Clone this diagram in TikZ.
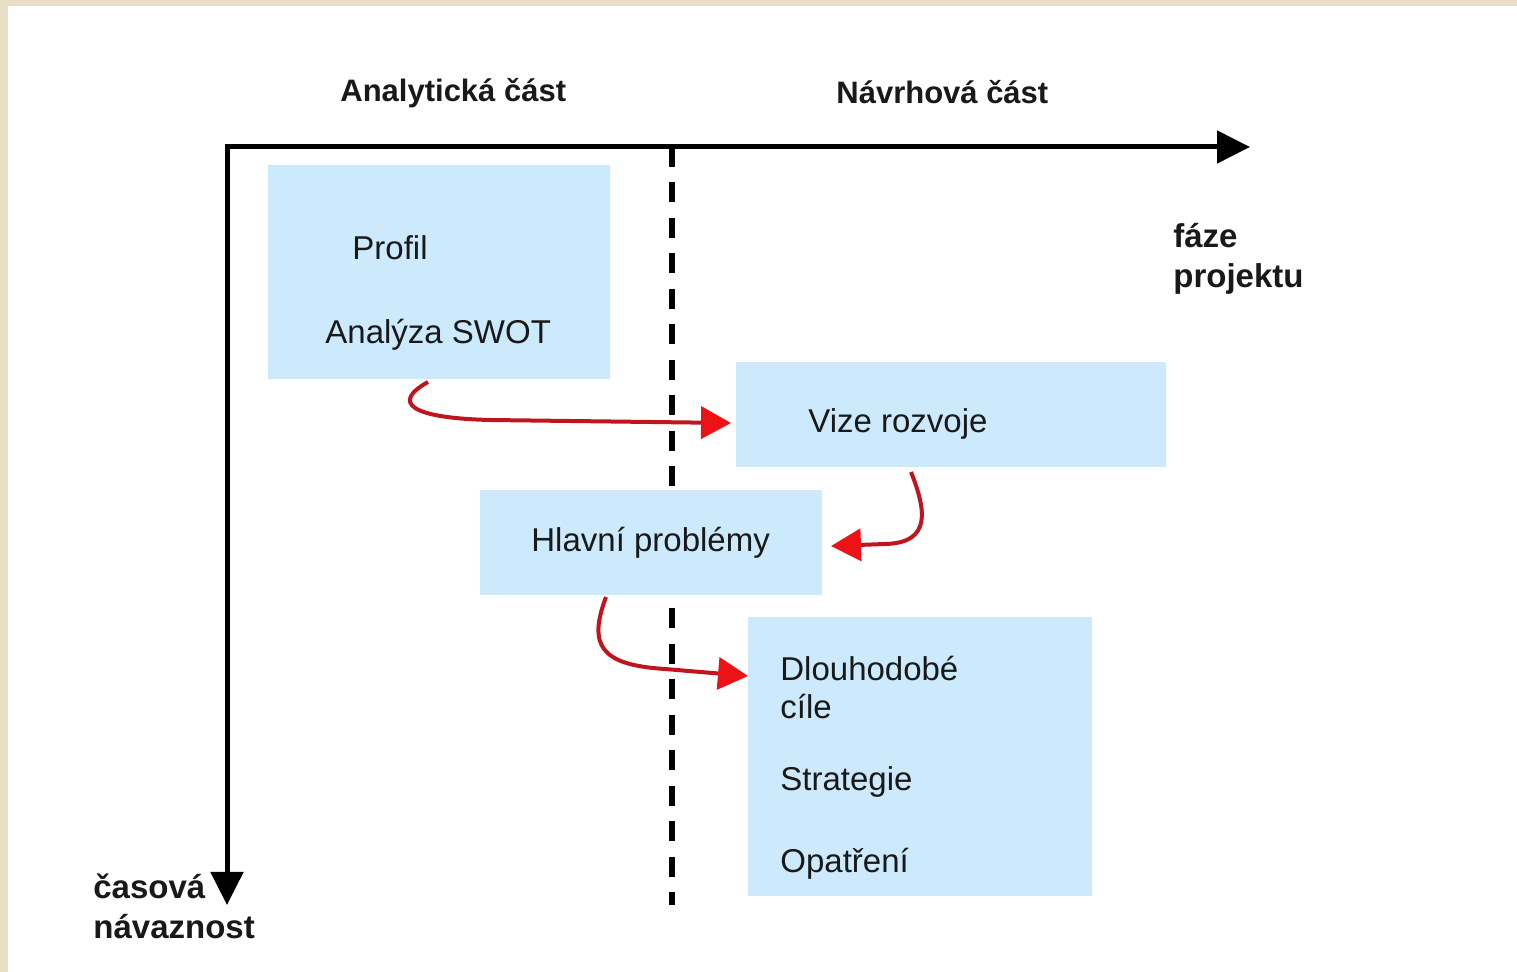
\documentclass[tikz,border=0pt]{standalone}
\usepackage{fontspec}
\setmainfont{Liberation Sans}
\usetikzlibrary{arrows.meta}
\definecolor{beige}{RGB}{233,221,198}
\definecolor{boxblue}{RGB}{204,234,252}
\definecolor{lineRed}{RGB}{192,20,30}
\definecolor{headRed}{RGB}{236,18,22}
\definecolor{txt}{RGB}{25,25,25}
\tikzset{
  box/.style={fill=boxblue, anchor=north west, inner sep=0pt, outer sep=0pt},
  bodytext/.style={anchor=base west, inner sep=0pt, text=txt, font=\fontsize{16.5}{19.5}\selectfont},
  headtext/.style={anchor=base west, inner sep=0pt, text=txt, font=\bfseries\fontsize{15.5}{20}\selectfont},
  sidetext/.style={anchor=base west, inner sep=0pt, text=txt, font=\bfseries\fontsize{16.5}{20}\selectfont},
  axis/.style={line width=2.5pt, -{Triangle[length=16.5pt,width=16pt]}},
  flow/.style={line width=2pt, lineRed, -{Triangle[length=15pt,width=16pt,color=headRed]}},
}
\begin{document}
\begin{tikzpicture}[x=0.5pt,y=-0.5pt]
\fill[beige] (0,0) rectangle (1517,972);
\fill[white] (8,6) rectangle (1517,972);
\useasboundingbox (0,0) rectangle (1517,972);

% axes
\coordinate (origin) at (227,147);
\coordinate (xend) at (1250,147);
\coordinate (yend) at (227,905);
\draw[axis] ([xshift=-1.25pt]origin) -- (xend);
\draw[axis] (origin) -- (yend);

% dashed divider
\coordinate (dtop) at (672,147);
\coordinate (dbot) at (672,905);
\draw[line width=3pt, dash pattern=on 10pt off 7.75pt] (dtop) -- (dbot);

% headers
\node[headtext] (hA) at (340,102) {Analytická část};
\node[headtext] (hN) at (836,104) {Návrhová část};
\node[sidetext] (faze1) at (1173,248) {fáze};
\node[sidetext] (faze2) at (1173,288) {projektu};
\node[sidetext] (cas1) at (93,899) {časová};
\node[sidetext] (cas2) at (93,939) {návaznost};

% boxes
\node[box, minimum width=171pt, minimum height=107pt] (b1) at (268,165) {};
\node[box, minimum width=215pt, minimum height=52.5pt] (b2) at (736,362) {};
\node[box, minimum width=171pt, minimum height=52.5pt] (b3) at (480,490) {};
\node[box, minimum width=172pt, minimum height=139.5pt] (b4) at (748,617) {};

% texts
\node[bodytext] (t1) at (352,260) {Profil};
\node[bodytext] (t2) at (325,344) {Analýza SWOT};
\node[bodytext] (t3) at (808,433) {Vize rozvoje};
\node[bodytext] (t4) at (531,552) {Hlavní problémy};
\node[bodytext] (t5) at (780,681) {Dlouhodobé};
\node[bodytext] (t6) at (780,719) {cíle};
\node[bodytext] (t7) at (780,791) {Strategie};
\node[bodytext] (t8) at (780,873) {Opatření};

% red flow arrows
\coordinate (a1s) at (428,382);
\coordinate (a1e) at (731,423);
\draw[flow] (a1s) .. controls (392,402) and (408,418) .. (490,420) -- (a1e);

\coordinate (a2s) at (911,472);
\coordinate (a2e) at (831,546);
\draw[flow] (a2s) .. controls (926,510) and (932,543) .. (885,544) -- (a2e);

\coordinate (a3s) at (606,597);
\coordinate (a3e) at (748,676);
\draw[flow] (a3s) .. controls (588,645) and (600,665) .. (665,669) -- (a3e);
\end{tikzpicture}
\end{document}
